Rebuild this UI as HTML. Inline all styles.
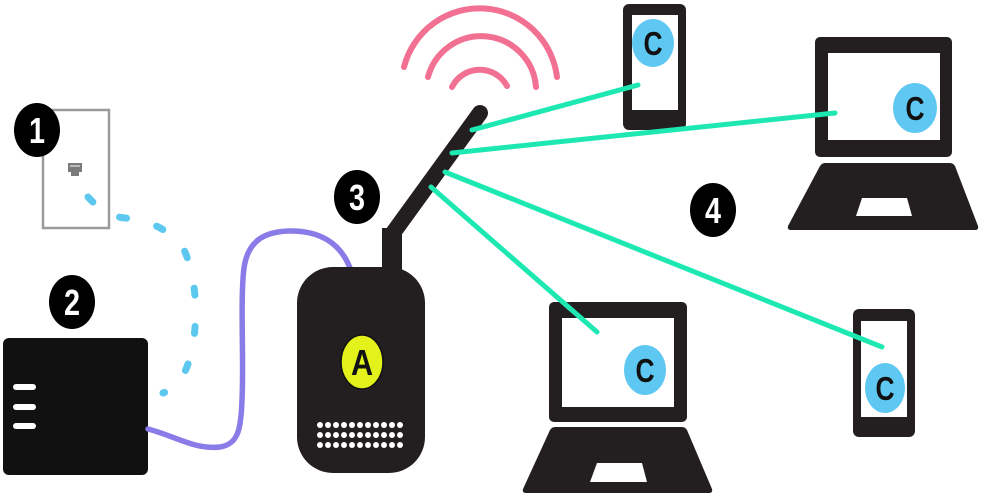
<!DOCTYPE html>
<html><head><meta charset="utf-8"><style>
html,body{margin:0;padding:0;background:#fff;}
svg{display:block;}
text{font-family:"Liberation Sans",sans-serif;font-weight:bold;}
</style></head><body>
<svg width="983" height="504" viewBox="0 0 983 504" xmlns="http://www.w3.org/2000/svg">
<rect width="983" height="504" fill="#fff"/>
<!-- wall plate -->
<rect x="43" y="110" width="66" height="118" fill="#fff" stroke="#9a9a9a" stroke-width="2.5"/>
<path d="M68,163 h14 v9 h-3 v4 h-8 v-4 h-3 z" fill="#7a7a7a"/>
<rect x="70" y="165" width="10" height="2" fill="#bbb"/>
<!-- dashed cable -->
<path pathLength="100" d="M88,197 C100,210 108,216 125,218 C150,220 175,232 185,252 C197,280 198,320 192,350 C186,375 178,388 163,393" fill="none" stroke="#5cc8f0" stroke-width="7" stroke-linecap="round" stroke-dasharray="2.6 11.6"/>
<!-- badge 1 -->
<ellipse cx="37" cy="130" rx="23" ry="27" fill="#000"/>
<text transform="translate(37,130) scale(0.8,1)" x="0" y="13" font-size="36" fill="#fff" text-anchor="middle">1</text>
<!-- badge 2 -->
<ellipse cx="72" cy="302" rx="23" ry="27" fill="#000"/>
<text transform="translate(72,302) scale(0.8,1)" x="0" y="13" font-size="36" fill="#fff" text-anchor="middle">2</text>
<!-- modem -->
<rect x="3" y="338" width="145" height="137" rx="6" fill="#111"/>
<g stroke="#fff" stroke-width="6" stroke-linecap="round">
<line x1="16" y1="387" x2="33" y2="387"/>
<line x1="16" y1="407" x2="33" y2="407"/>
<line x1="16" y1="426" x2="33" y2="426"/>
</g>
<!-- purple cable -->
<path d="M148,429 C175,436 195,450 220,447 C238,444 241,430 242,400 C244,360 240,300 244,268 C248,240 265,232 288,231 C318,230 340,242 350,268" fill="none" stroke="#8a7ce8" stroke-width="5.5" stroke-linecap="round"/>
<!-- pink waves -->
<g fill="none" stroke="#f27193" stroke-width="6" stroke-linecap="round">
<path d="M452,87 A31,31 0 0 1 507,86"/>
<path d="M428,77 A55,55 0 0 1 536,87"/>
<path d="M404,67 A78,78 0 0 1 557,77"/>
</g>
<!-- antenna -->
<line x1="480" y1="113" x2="393" y2="233" stroke="#231f20" stroke-width="16" stroke-linecap="round"/>
<rect x="382" y="228" width="20" height="45" fill="#231f20"/>
<!-- router body -->
<rect x="297" y="267" width="128" height="206" rx="36" fill="#231f20"/>
<ellipse cx="362" cy="362" rx="21" ry="27" fill="#e3f21a" stroke="#111" stroke-width="1.5"/>
<text transform="translate(362,362) scale(0.85,1)" x="0" y="13" font-size="36" fill="#111" text-anchor="middle">A</text>
<g fill="#fff">
<g id="row">
<circle cx="320" cy="425" r="3"/><circle cx="328" cy="425" r="3"/><circle cx="336" cy="425" r="3"/><circle cx="344" cy="425" r="3"/><circle cx="352" cy="425" r="3"/><circle cx="360" cy="425" r="3"/><circle cx="368" cy="425" r="3"/><circle cx="376" cy="425" r="3"/><circle cx="384" cy="425" r="3"/><circle cx="392" cy="425" r="3"/><circle cx="400" cy="425" r="3"/>
</g>
<use href="#row" y="10"/>
<use href="#row" y="20"/>
</g>
<!-- badge 3 -->
<ellipse cx="357" cy="197" rx="23" ry="27" fill="#000"/>
<text transform="translate(357,197) scale(0.8,1)" x="0" y="13" font-size="36" fill="#fff" text-anchor="middle">3</text>
<!-- badge 4 -->
<ellipse cx="713" cy="210" rx="23" ry="27" fill="#000"/>
<text transform="translate(713,210) scale(0.8,1)" x="0" y="13" font-size="36" fill="#fff" text-anchor="middle">4</text>

<!-- phone 1 -->
<rect x="623" y="4" width="63" height="126" rx="6" fill="#231f20"/>
<rect x="632" y="15" width="46" height="95" fill="#fff"/>
<ellipse cx="653" cy="43" rx="21" ry="24" fill="#5ec8f2"/>
<text transform="translate(653,43) scale(0.8,1)" x="0" y="12" font-size="33" fill="#111" text-anchor="middle">C</text>

<!-- laptop 1 -->
<rect x="815" y="37" width="137" height="120" rx="5" fill="#231f20"/>
<rect x="828" y="53" width="112" height="87" fill="#fff"/>
<path d="M825,163 H950 Q953,163 955,166 L978,226 Q979,230 975,230 H791 Q787,230 788,226 L820,166 Q822,163 825,163 Z" fill="#231f20"/>
<path d="M862,198 H907 L912,216 H856 Z" fill="#fff"/>
<ellipse cx="915" cy="108" rx="22" ry="25" fill="#5ec8f2"/>
<text transform="translate(915,108) scale(0.8,1)" x="0" y="12" font-size="33" fill="#111" text-anchor="middle">C</text>

<!-- laptop 2 -->
<rect x="549" y="302" width="138" height="120" rx="5" fill="#231f20"/>
<rect x="562" y="318" width="112" height="89" fill="#fff"/>
<path d="M555,427 H682 Q685,427 687,430 L712,489 Q713,493 709,493 H526 Q522,493 523,489 L550,430 Q552,427 555,427 Z" fill="#231f20"/>
<path d="M597,463 H642 L647,482 H590 Z" fill="#fff"/>
<ellipse cx="645" cy="370" rx="21" ry="25" fill="#5ec8f2"/>
<text transform="translate(645,370) scale(0.8,1)" x="0" y="12" font-size="33" fill="#111" text-anchor="middle">C</text>

<!-- phone 2 -->
<rect x="853" y="309" width="62" height="128" rx="6" fill="#231f20"/>
<rect x="861" y="321" width="46" height="96" fill="#fff"/>
<ellipse cx="885" cy="388" rx="20" ry="25" fill="#5ec8f2"/>
<text transform="translate(885,388) scale(0.8,1)" x="0" y="12" font-size="33" fill="#111" text-anchor="middle">C</text>

<!-- green lines -->
<g stroke="#1ee8b2" stroke-width="5" stroke-linecap="round">
<line x1="472" y1="130" x2="638" y2="85"/>
<line x1="452" y1="153" x2="835" y2="113"/>
<line x1="445" y1="172" x2="882" y2="347"/>
<line x1="431" y1="187" x2="597" y2="332"/>
</g>
</svg>
</body></html>
